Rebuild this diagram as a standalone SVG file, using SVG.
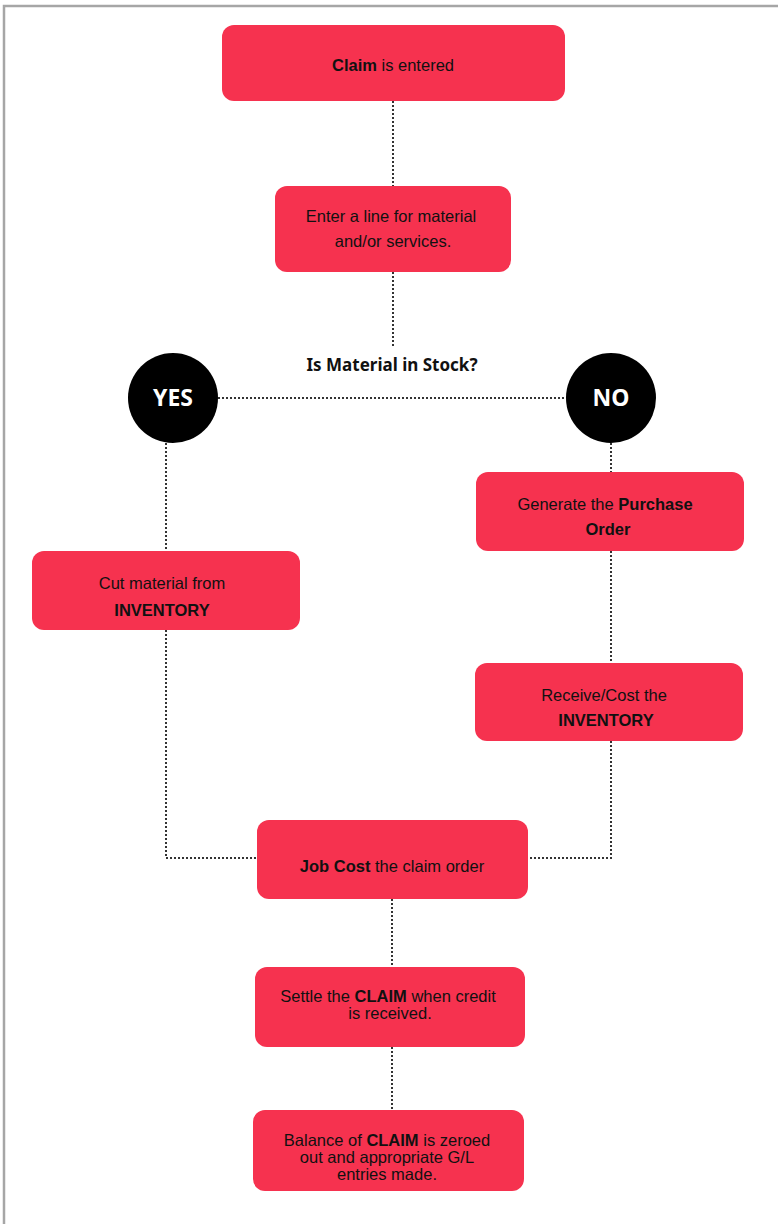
<svg xmlns="http://www.w3.org/2000/svg" width="778" height="1224" viewBox="0 0 778 1224">
<style>
.box{fill:#f6324f;}
.t{font-family:"Liberation Sans",Arial,sans-serif;font-size:16.5px;fill:#111;text-anchor:middle;}
.b{font-weight:bold;}
.c{fill:#000;}
.ct{font-family:"Noto Sans","Open Sans",sans-serif;font-weight:bold;font-size:23px;fill:#fff;text-anchor:middle;}
.q{font-family:"Noto Sans","Open Sans",sans-serif;font-weight:bold;font-size:17px;fill:#111;text-anchor:middle;}
.con{fill:none;stroke:#333;stroke-width:2;stroke-dasharray:2 2;}
</style>
<rect width="778" height="1224" fill="#fff"/>
<path d="M4 1224 V6 H778" fill="none" stroke="#a6a6a6" stroke-width="2.5"/>
<g id="connectors">
<path class="con" d="M393 101 V186"/>
<path class="con" d="M393 272 V346"/>
<path class="con" d="M218 398 H566"/>
<path class="con" d="M166 443 V551"/>
<path class="con" d="M166 630 V858 H257"/>
<path class="con" d="M611 443 V472"/>
<path class="con" d="M611 551 V663"/>
<path class="con" d="M611 741 V858 H528"/>
<path class="con" d="M392 899 V967"/>
<path class="con" d="M392 1047 V1110"/>
</g>
<g id="claim">
<rect class="box" x="222" y="25" width="343" height="76" rx="12"/>
<text class="t" x="393" y="71"><tspan class="b">Claim</tspan> is entered</text>
</g>
<g id="enter-line">
<rect class="box" x="275" y="186" width="236" height="86" rx="12"/>
<text class="t" x="391" y="222">Enter a line for material</text>
<text class="t" x="393" y="247">and/or services.</text>
</g>
<g id="question">
<text class="q" x="392" y="371">Is Material in Stock?</text>
</g>
<g id="yes">
<circle class="c" cx="173" cy="398" r="45"/>
<text class="ct" x="173" y="406">YES</text>
</g>
<g id="no">
<circle class="c" cx="611" cy="398" r="45"/>
<text class="ct" x="611" y="406">NO</text>
</g>
<g id="cut-material">
<rect class="box" x="32" y="551" width="268" height="79" rx="12"/>
<text class="t" x="162" y="589">Cut material from</text>
<text class="t b" x="162" y="616">INVENTORY</text>
</g>
<g id="purchase-order">
<rect class="box" x="476" y="472" width="268" height="79" rx="12"/>
<text class="t" x="605" y="510">Generate the <tspan class="b">Purchase</tspan></text>
<text class="t b" x="608" y="535">Order</text>
</g>
<g id="receive-cost">
<rect class="box" x="475" y="663" width="268" height="78" rx="12"/>
<text class="t" x="604" y="701">Receive/Cost the</text>
<text class="t b" x="606" y="726">INVENTORY</text>
</g>
<g id="job-cost">
<rect class="box" x="257" y="820" width="271" height="79" rx="12"/>
<text class="t" x="392" y="872"><tspan class="b">Job Cost</tspan> the claim order</text>
</g>
<g id="settle">
<rect class="box" x="255" y="967" width="270" height="80" rx="12"/>
<text class="t" x="388" y="1002">Settle the <tspan class="b">CLAIM</tspan> when credit</text>
<text class="t" x="390" y="1019">is received.</text>
</g>
<g id="balance">
<rect class="box" x="253" y="1110" width="271" height="81" rx="12"/>
<text class="t" x="387" y="1146">Balance of <tspan class="b">CLAIM</tspan> is zeroed</text>
<text class="t" x="387" y="1163">out and appropriate G/L</text>
<text class="t" x="387" y="1180">entries made.</text>
</g>
</svg>
